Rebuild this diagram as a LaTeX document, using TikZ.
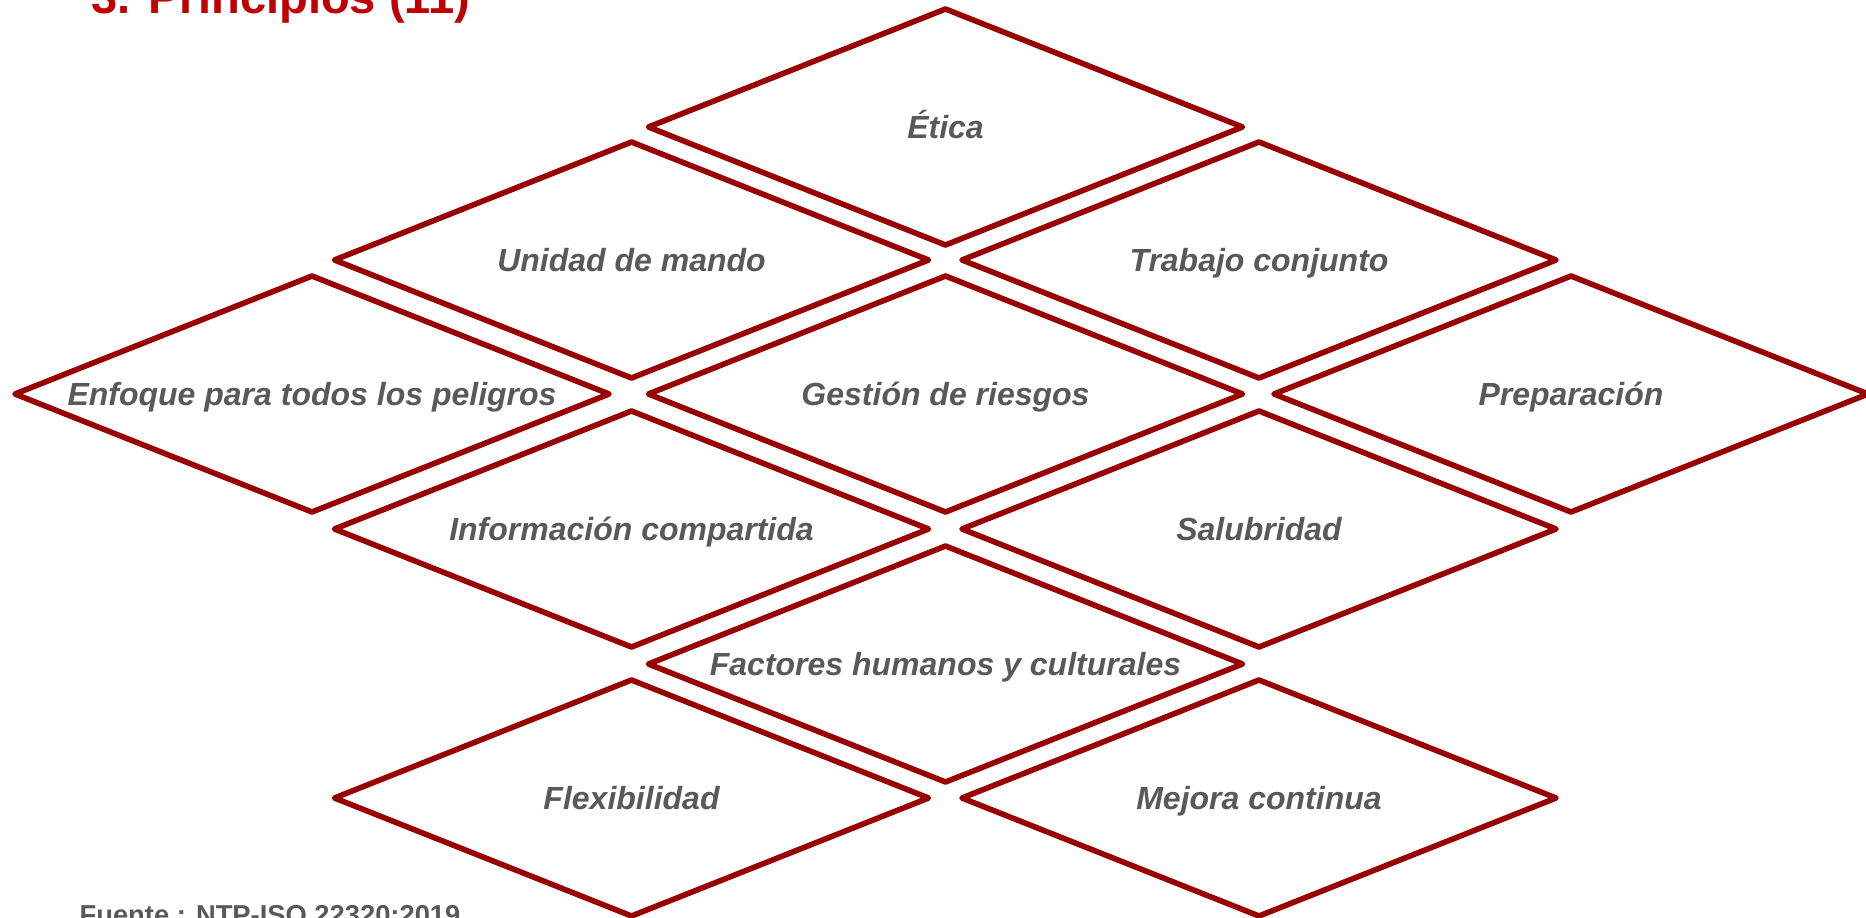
\documentclass[tikz,border=0pt]{standalone}
\usepackage{fontspec}
\setmainfont{Liberation Sans}
\definecolor{rojoborde}{HTML}{990000}
\definecolor{rojotitulo}{HTML}{C00000}
\definecolor{gristexto}{HTML}{595959}
\tikzset{
  rombo/.style={draw=rojoborde, line width=4.2pt, line join=round},
  etiqueta/.style={inner sep=0.75pt, text=gristexto, text height=17.2pt, text depth=0pt,
    font=\fontsize{24}{28}\selectfont\bfseries\itshape},
}
\begin{document}
\begin{tikzpicture}[x=0.75pt,y=0.75pt,yscale=-1,xscale=1]
\path[use as bounding box, clip] (0,0) rectangle (1866,917);

%Shape: Diamond [id:etica]
\draw[rombo] (648.5,127) -- (945.5,9) -- (1242.5,127) -- (945.5,245) -- cycle ;
%Shape: Diamond [id:unidad]
\draw[rombo] (334.5,260) -- (631.5,142) -- (928.5,260) -- (631.5,378) -- cycle ;
%Shape: Diamond [id:trabajo]
\draw[rombo] (962,260) -- (1259,142) -- (1556,260) -- (1259,378) -- cycle ;
%Shape: Diamond [id:enfoque]
\draw[rombo] (15,394) -- (312,276) -- (609,394) -- (312,512) -- cycle ;
%Shape: Diamond [id:gestion]
\draw[rombo] (648.5,394) -- (945.5,276) -- (1242.5,394) -- (945.5,512) -- cycle ;
%Shape: Diamond [id:preparacion]
\draw[rombo] (1274,394) -- (1571,276) -- (1868,394) -- (1571,512) -- cycle ;
%Shape: Diamond [id:informacion]
\draw[rombo] (334.5,529) -- (631.5,411) -- (928.5,529) -- (631.5,647) -- cycle ;
%Shape: Diamond [id:salubridad]
\draw[rombo] (962,529) -- (1259,411) -- (1556,529) -- (1259,647) -- cycle ;
%Shape: Diamond [id:factores]
\draw[rombo] (648.5,664) -- (945.5,546) -- (1242.5,664) -- (945.5,782) -- cycle ;
%Shape: Diamond [id:flexibilidad]
\draw[rombo] (334.5,798) -- (631.5,680) -- (928.5,798) -- (631.5,916) -- cycle ;
%Shape: Diamond [id:mejora]
\draw[rombo] (962,798) -- (1259,680) -- (1556,798) -- (1259,916) -- cycle ;

% Text Node
\node[etiqueta] (etica) at (945.5,127) {Ética};
% Text Node
\node[etiqueta] (unidad) at (631.5,260) {Unidad de mando};
% Text Node
\node[etiqueta] (trabajo) at (1259,260) {Trabajo conjunto};
% Text Node
\node[etiqueta] (enfoque) at (312,394) {Enfoque para todos los peligros};
% Text Node
\node[etiqueta] (gestion) at (945.5,394) {Gestión de riesgos};
% Text Node
\node[etiqueta] (preparacion) at (1571,394) {Preparación};
% Text Node
\node[etiqueta] (informacion) at (631.5,529) {Información compartida};
% Text Node
\node[etiqueta] (salubridad) at (1259,529) {Salubridad};
% Text Node
\node[etiqueta] (factores) at (945.5,664) {Factores humanos y culturales};
% Text Node
\node[etiqueta] (flexibilidad) at (631.5,798) {Flexibilidad};
% Text Node
\node[etiqueta] (mejora) at (1259,798) {Mejora continua};

% Title
\node[anchor=base, inner sep=0pt, text=rojotitulo, font=\fontsize{35.3}{40}\selectfont\bfseries] (titulo) at (281,14) {3. Principios (11)};
% Source
\node[anchor=base, inner sep=0pt, text=gristexto, font=\fontsize{20.5}{24}\selectfont\bfseries] (fuente) at (270,924.6) {Fuente : NTP-ISO 22320:2019};

\end{tikzpicture}
\end{document}
